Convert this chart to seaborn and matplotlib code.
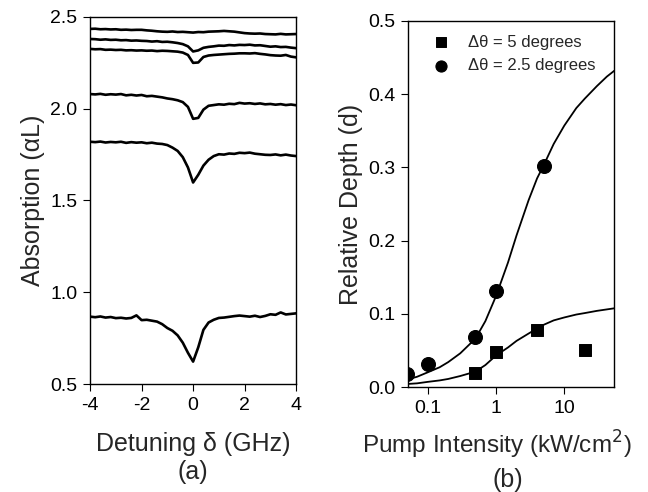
"""
吸收谱与相对深度 两联图
"""
import numpy as np
import pandas as pd
import matplotlib
matplotlib.use('Agg')
import matplotlib.pyplot as plt
import seaborn as sns

# ============================
# (a) 吸收谱数据
# ============================
detuning = [-4.0, -3.8, -3.6, -3.4, -3.2, -3.0, -2.8, -2.6, -2.4, -2.2,
            -2.0, -1.8, -1.6, -1.4, -1.2, -1.0, -0.8, -0.6, -0.4, -0.2,
            0.0, 0.2, 0.4, 0.6, 0.8, 1.0, 1.2, 1.4, 1.6, 1.8,
            2.0, 2.2, 2.4, 2.6, 2.8, 3.0, 3.2, 3.4, 3.6, 3.8, 4.0]

trace_1 = [2.435, 2.436, 2.433, 2.434, 2.432, 2.433, 2.430, 2.431, 2.429, 2.430,
           2.430, 2.427, 2.425, 2.422, 2.420, 2.419, 2.421, 2.418, 2.419, 2.417,
           2.415, 2.418, 2.417, 2.420, 2.421, 2.422, 2.424, 2.422, 2.420, 2.416,
           2.412, 2.410, 2.409, 2.410, 2.407, 2.406, 2.405, 2.408, 2.405, 2.406, 2.407]
trace_2 = [2.380, 2.379, 2.376, 2.378, 2.375, 2.376, 2.373, 2.374, 2.371, 2.372,
           2.370, 2.369, 2.366, 2.368, 2.364, 2.365, 2.362, 2.358, 2.352, 2.340,
           2.312, 2.318, 2.332, 2.337, 2.340, 2.344, 2.343, 2.347, 2.345, 2.348,
           2.347, 2.349, 2.345, 2.346, 2.342, 2.338, 2.340, 2.336, 2.337, 2.333, 2.330]
trace_3 = [2.326, 2.324, 2.325, 2.321, 2.322, 2.320, 2.321, 2.318, 2.319, 2.317,
           2.318, 2.316, 2.317, 2.314, 2.316, 2.315, 2.313, 2.311, 2.306, 2.293,
           2.250, 2.252, 2.282, 2.290, 2.293, 2.295, 2.297, 2.299, 2.300, 2.302,
           2.302, 2.301, 2.303, 2.299, 2.296, 2.292, 2.290, 2.289, 2.293, 2.284, 2.280]
trace_4 = [2.080, 2.078, 2.081, 2.076, 2.079, 2.077, 2.080, 2.073, 2.076, 2.072,
           2.075, 2.068, 2.070, 2.066, 2.062, 2.056, 2.052, 2.046, 2.036, 2.010,
           1.945, 1.950, 1.995, 2.016, 2.020, 2.024, 2.022, 2.027, 2.025, 2.032,
           2.028, 2.030, 2.026, 2.029, 2.024, 2.026, 2.022, 2.025, 2.020, 2.023, 2.019]
trace_5 = [1.820, 1.818, 1.821, 1.816, 1.819, 1.817, 1.820, 1.814, 1.818, 1.815,
           1.817, 1.812, 1.815, 1.810, 1.808, 1.802, 1.788, 1.770, 1.736, 1.680,
           1.598, 1.640, 1.690, 1.722, 1.742, 1.752, 1.750, 1.756, 1.754, 1.760,
           1.758, 1.761, 1.755, 1.752, 1.749, 1.748, 1.751, 1.746, 1.750, 1.745, 1.742]
trace_6 = [0.867, 0.864, 0.868, 0.862, 0.865, 0.859, 0.861, 0.857, 0.860, 0.874,
           0.848, 0.850, 0.845, 0.840, 0.826, 0.805, 0.790, 0.765, 0.725, 0.670,
           0.622, 0.700, 0.795, 0.835, 0.850, 0.860, 0.862, 0.866, 0.870, 0.873,
           0.870, 0.867, 0.872, 0.865, 0.871, 0.880, 0.877, 0.890, 0.879, 0.882, 0.885]
traces = [trace_1, trace_2, trace_3, trace_4, trace_5, trace_6]

# ============================
# (b) 相对深度数据
# ============================
sq_intensity = [0.5, 1.0, 4.0, 20.0]
sq_depth = [0.0195, 0.048, 0.078, 0.0505]
ci_intensity = [0.05, 0.1, 0.5, 1.0, 5.0]
ci_depth = [0.018, 0.0314, 0.0687, 0.131, 0.302]

fit_intensity = [0.048, 0.07, 0.1, 0.15, 0.2, 0.3, 0.5, 0.7, 1.0, 1.5, 2.0,
                 3.0, 4.0, 5.0, 7.0, 10.0, 15.0, 20.0, 30.0, 42.0, 54.0]
fit_ci = [0.0096, 0.014, 0.020, 0.027, 0.034, 0.046, 0.066, 0.090, 0.124, 0.170, 0.207,
          0.255, 0.285, 0.303, 0.332, 0.357, 0.381, 0.394, 0.411, 0.424, 0.432]
fit_sq = [0.004, 0.005, 0.007, 0.009, 0.011, 0.015, 0.021, 0.030, 0.043, 0.054, 0.063,
          0.073, 0.080, 0.085, 0.091, 0.095, 0.099, 0.101, 0.104, 0.106, 0.1075]

sns.set_style('ticks')
plt.rcParams['font.family'] = ['Liberation Sans', 'DejaVu Sans']
plt.rcParams['axes.unicode_minus'] = False
plt.rcParams['axes.linewidth'] = 1.0
plt.rcParams['xtick.major.size'] = 5
plt.rcParams['ytick.major.size'] = 5

fig = plt.figure(figsize=(6.48, 4.92), dpi=100)
ax_a = fig.add_axes([0.139, 0.2195, 0.318, 0.746])
ax_b = fig.add_axes([0.630, 0.2134, 0.318, 0.744])

# ---- (a) ----
for tr in traces:
    sns.lineplot(x=detuning, y=tr, ax=ax_a, color='black', lw=1.9)
ax_a.set_xlim(-4, 4)
ax_a.set_ylim(0.5, 2.5)
ax_a.set_xticks([-4, -2, 0, 2, 4])
ax_a.set_yticks([0.5, 1.0, 1.5, 2.0, 2.5])
ax_a.set_yticklabels(['0.5', '1.0', '1.5', '2.0', '2.5'])
ax_a.tick_params(labelsize=14, colors='black', pad=4)
ax_a.set_ylabel('Absorption (αL)', fontsize=18, labelpad=4)
ax_a.set_xlabel('Detuning δ (GHz)', fontsize=18, labelpad=13)
fig.text(0.298, 0.040, '(a)', fontsize=18, ha='center', va='center')

# ---- (b) ----
ax_b.set_xscale('log')
sns.lineplot(x=fit_intensity, y=fit_ci, ax=ax_b, color='black', lw=1.3)
sns.lineplot(x=fit_intensity, y=fit_sq, ax=ax_b, color='black', lw=1.3)
sns.scatterplot(x=sq_intensity, y=sq_depth, ax=ax_b, marker='s', s=75,
                color='black', edgecolor='black', label='Δθ = 5 degrees')
sns.scatterplot(x=ci_intensity, y=ci_depth, ax=ax_b, marker='o', s=100,
                color='black', edgecolor='black', label='Δθ = 2.5 degrees')
ax_b.set_xlim(0.052, 54)
ax_b.set_ylim(0.0, 0.5)
ax_b.set_xticks([0.1, 1, 10])
ax_b.set_xticklabels(['0.1', '1', '10'])
ax_b.xaxis.set_minor_locator(plt.NullLocator())
ax_b.set_yticks([0.0, 0.1, 0.2, 0.3, 0.4, 0.5])
ax_b.tick_params(labelsize=14, colors='black', pad=4)
ax_b.set_ylabel('Relative Depth (d)', fontsize=18, labelpad=4)
ax_b.set_xlabel('Pump Intensity (kW/cm$^2$)', fontsize=17.5)
ax_b.xaxis.set_label_coords(0.43, -0.115)
fig.text(0.784, 0.024, '(b)', fontsize=18, ha='center', va='center')
ax_b.legend(loc='upper left', bbox_to_anchor=(0.03, 0.99), frameon=False,
            fontsize=12, handletextpad=0.6, markerscale=0.8, borderaxespad=0.2,
            labelspacing=0.5)

for ax in (ax_a, ax_b):
    for sp in ax.spines.values():
        sp.set_visible(True)
        sp.set_color('black')

fig.savefig('out.png', dpi=100)
